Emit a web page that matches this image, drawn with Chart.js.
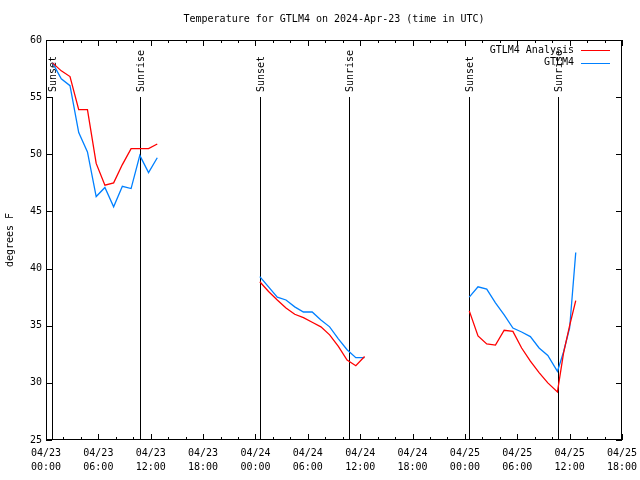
<!DOCTYPE html>
<html>
<head>
<meta charset="utf-8">
<script src="https://cdn.jsdelivr.net/npm/chart.js@4"></script>
<style>
  html, body { margin: 0; padding: 0; background: #fff; }
  #wrap { width: 640px; height: 480px; }
</style>
</head>
<body>
<div id="wrap"><canvas id="chart" width="640" height="480"></canvas></div>
<script>
// hours since 04/23 00:00 UTC
const seg1Times = [0.75, 1.75, 2.75, 3.75, 4.75, 5.75, 6.75, 7.75, 8.75, 9.75, 10.75, 11.75, 12.75];
const seg1Analysis = [58.0, 57.3, 56.8, 53.9, 53.9, 49.2, 47.3, 47.5, 49.1, 50.5, 50.5, 50.5, 50.9];
const seg1Obs = [58.0, 56.6, 56.0, 51.9, 50.2, 46.3, 47.1, 45.4, 47.2, 47.0, 49.9, 48.4, 49.7];

const seg2Times = [24.5, 25.5, 26.5, 27.5, 28.5, 29.5, 30.5, 31.5, 32.5, 33.5, 34.5, 35.5, 36.5];
const seg2Analysis = [38.85, 38.0, 37.25, 36.55, 36.0, 35.7, 35.3, 34.9, 34.2, 33.2, 32.0, 31.5, 32.3];
const seg2Obs = [39.3, 38.4, 37.5, 37.25, 36.65, 36.2, 36.2, 35.5, 34.9, 33.85, 32.9, 32.2, 32.2];

const seg3Times = [48.5, 49.5, 50.5, 51.5, 52.5, 53.5, 54.5, 55.5, 56.5, 57.5, 58.6, 59.3, 60.0, 60.7];
const seg3Analysis = [36.3, 34.1, 33.4, 33.3, 34.6, 34.5, 33.05, 31.9, 30.9, 30.0, 29.2, 32.6, 35.0, 37.2];
const seg3Obs = [37.5, 38.4, 38.2, 37.0, 35.95, 34.8, 34.45, 34.05, 33.05, 32.4, 31.0, 32.7, 34.8, 41.4];

const eventTimes = [0.69, 10.77, 24.52, 34.72, 48.47, 58.67];
const eventNames = ["Sunset", "Sunrise", "Sunset", "Sunrise", "Sunset", "Sunrise"];

const seriesNames = ["GTLM4 Analysis", "GTLM4"];
const seriesColors = ["#ff0000", "#0080ff"];

const FONT = '"DejaVu Sans Mono", monospace';

function buildSeries(segs) {
    const pts = [];
    segs.forEach((s, i) => {
        if (i > 0) pts.push({ x: s[0][0] - 1, y: null });
        s[0].forEach((t, j) => pts.push({ x: t, y: s[1][j] }));
    });
    return pts;
}

function tickLabel(h) {
    const day = 23 + Math.floor(h / 24);
    const hr = h % 24;
    return ["04/" + day, (hr < 10 ? "0" : "") + hr + ":00"];
}

const decorPlugin = {
    id: 'decor',
    beforeDatasetsDraw(chart) {
        const ctx = chart.ctx;
        const a = chart.chartArea;
        const xs = chart.scales.x;
        ctx.save();
        ctx.strokeStyle = '#000';
        ctx.fillStyle = '#000';
        ctx.lineWidth = 1;
        ctx.font = '10px ' + FONT;
        eventTimes.forEach((t, i) => {
            const x = Math.round(xs.getPixelForValue(t)) + 0.5;
            ctx.beginPath();
            ctx.moveTo(x, a.bottom);
            ctx.lineTo(x, 97);
            ctx.stroke();
            ctx.save();
            ctx.translate(x + 1, 92);
            ctx.rotate(-Math.PI / 2);
            ctx.textAlign = 'left';
            ctx.textBaseline = 'middle';
            ctx.fillText(eventNames[i], 0, 0);
            ctx.restore();
        });
        ctx.restore();
    },
    afterDatasetsDraw(chart) {
        const ctx = chart.ctx;
        const a = chart.chartArea;
        const xs = chart.scales.x;
        const ys = chart.scales.y;
        ctx.save();
        ctx.strokeStyle = '#000';
        ctx.lineWidth = 1;
        // frame
        ctx.strokeRect(a.left + 0.5, a.top + 0.5, a.right - a.left - 1, a.bottom - a.top - 1);
        // x ticks, every 2 hours
        for (let h = 0; h <= 66; h += 2) {
            const x = Math.round(xs.getPixelForValue(h)) + 0.5;
            const len = h % 6 === 0 ? 6 : 3;
            ctx.beginPath();
            ctx.moveTo(x, a.bottom);
            ctx.lineTo(x, a.bottom - len);
            ctx.moveTo(x, a.top);
            ctx.lineTo(x, a.top + len);
            ctx.stroke();
        }
        // y ticks
        for (let v = 25; v <= 60; v += 5) {
            const y = Math.round(ys.getPixelForValue(v)) + 0.5;
            ctx.beginPath();
            ctx.moveTo(a.left, y);
            ctx.lineTo(a.left + 6, y);
            ctx.moveTo(a.right, y);
            ctx.lineTo(a.right - 6, y);
            ctx.stroke();
        }
        // legend
        ctx.font = '10px ' + FONT;
        ctx.fillStyle = '#000';
        ctx.textAlign = 'right';
        ctx.textBaseline = 'middle';
        seriesNames.forEach((name, i) => {
            const y = 50 + i * 12.5;
            ctx.fillText(name, 574, y);
            ctx.strokeStyle = seriesColors[i];
            ctx.beginPath();
            ctx.moveTo(581, Math.round(y) + 0.5);
            ctx.lineTo(610, Math.round(y) + 0.5);
            ctx.stroke();
        });
        // title
        ctx.textAlign = 'center';
        ctx.fillText('Temperature for GTLM4 on 2024-Apr-23 (time in UTC)', (a.left + a.right) / 2, 19);
        // y axis title
        ctx.save();
        ctx.translate(10, (a.top + a.bottom) / 2);
        ctx.rotate(-Math.PI / 2);
        ctx.fillText('degrees F', 0, 0);
        ctx.restore();
        ctx.restore();
    }
};

new Chart(document.getElementById('chart'), {
    type: 'line',
    data: {
        datasets: [
            {
                label: seriesNames[0],
                data: buildSeries([[seg1Times, seg1Analysis], [seg2Times, seg2Analysis], [seg3Times, seg3Analysis]]),
                borderColor: seriesColors[0],
                borderWidth: 1.3,
                pointRadius: 0,
                tension: 0,
                spanGaps: false
            },
            {
                label: seriesNames[1],
                data: buildSeries([[seg1Times, seg1Obs], [seg2Times, seg2Obs], [seg3Times, seg3Obs]]),
                borderColor: seriesColors[1],
                borderWidth: 1.3,
                pointRadius: 0,
                tension: 0,
                spanGaps: false
            }
        ]
    },
    options: {
        responsive: false,
        animation: false,
        events: [],
        layout: { padding: { top: 40, right: 18, left: 0, bottom: 0 } },
        plugins: { legend: { display: false }, title: { display: false }, tooltip: { enabled: false } },
        scales: {
            x: {
                type: 'linear',
                min: 0,
                max: 66,
                afterFit(scale) {
                    scale.height = 40;
                    scale.paddingLeft = 0;
                    scale.paddingRight = 0;
                },
                grid: { display: false, drawTicks: false },
                border: { display: false },
                ticks: {
                    stepSize: 6,
                    autoSkip: false,
                    maxRotation: 0,
                    padding: 6,
                    color: '#000',
                    font: { family: FONT, size: 10, lineHeight: 1.4 },
                    callback: v => tickLabel(v)
                }
            },
            y: {
                min: 25,
                max: 60,
                afterFit(scale) {
                    scale.width = 46;
                    scale.paddingTop = 0;
                    scale.paddingBottom = 0;
                },
                grid: { display: false, drawTicks: false },
                border: { display: false },
                ticks: {
                    stepSize: 5,
                    padding: 4,
                    color: '#000',
                    font: { family: FONT, size: 10 }
                }
            }
        }
    },
    plugins: [decorPlugin]
});
</script>
</body>
</html>
